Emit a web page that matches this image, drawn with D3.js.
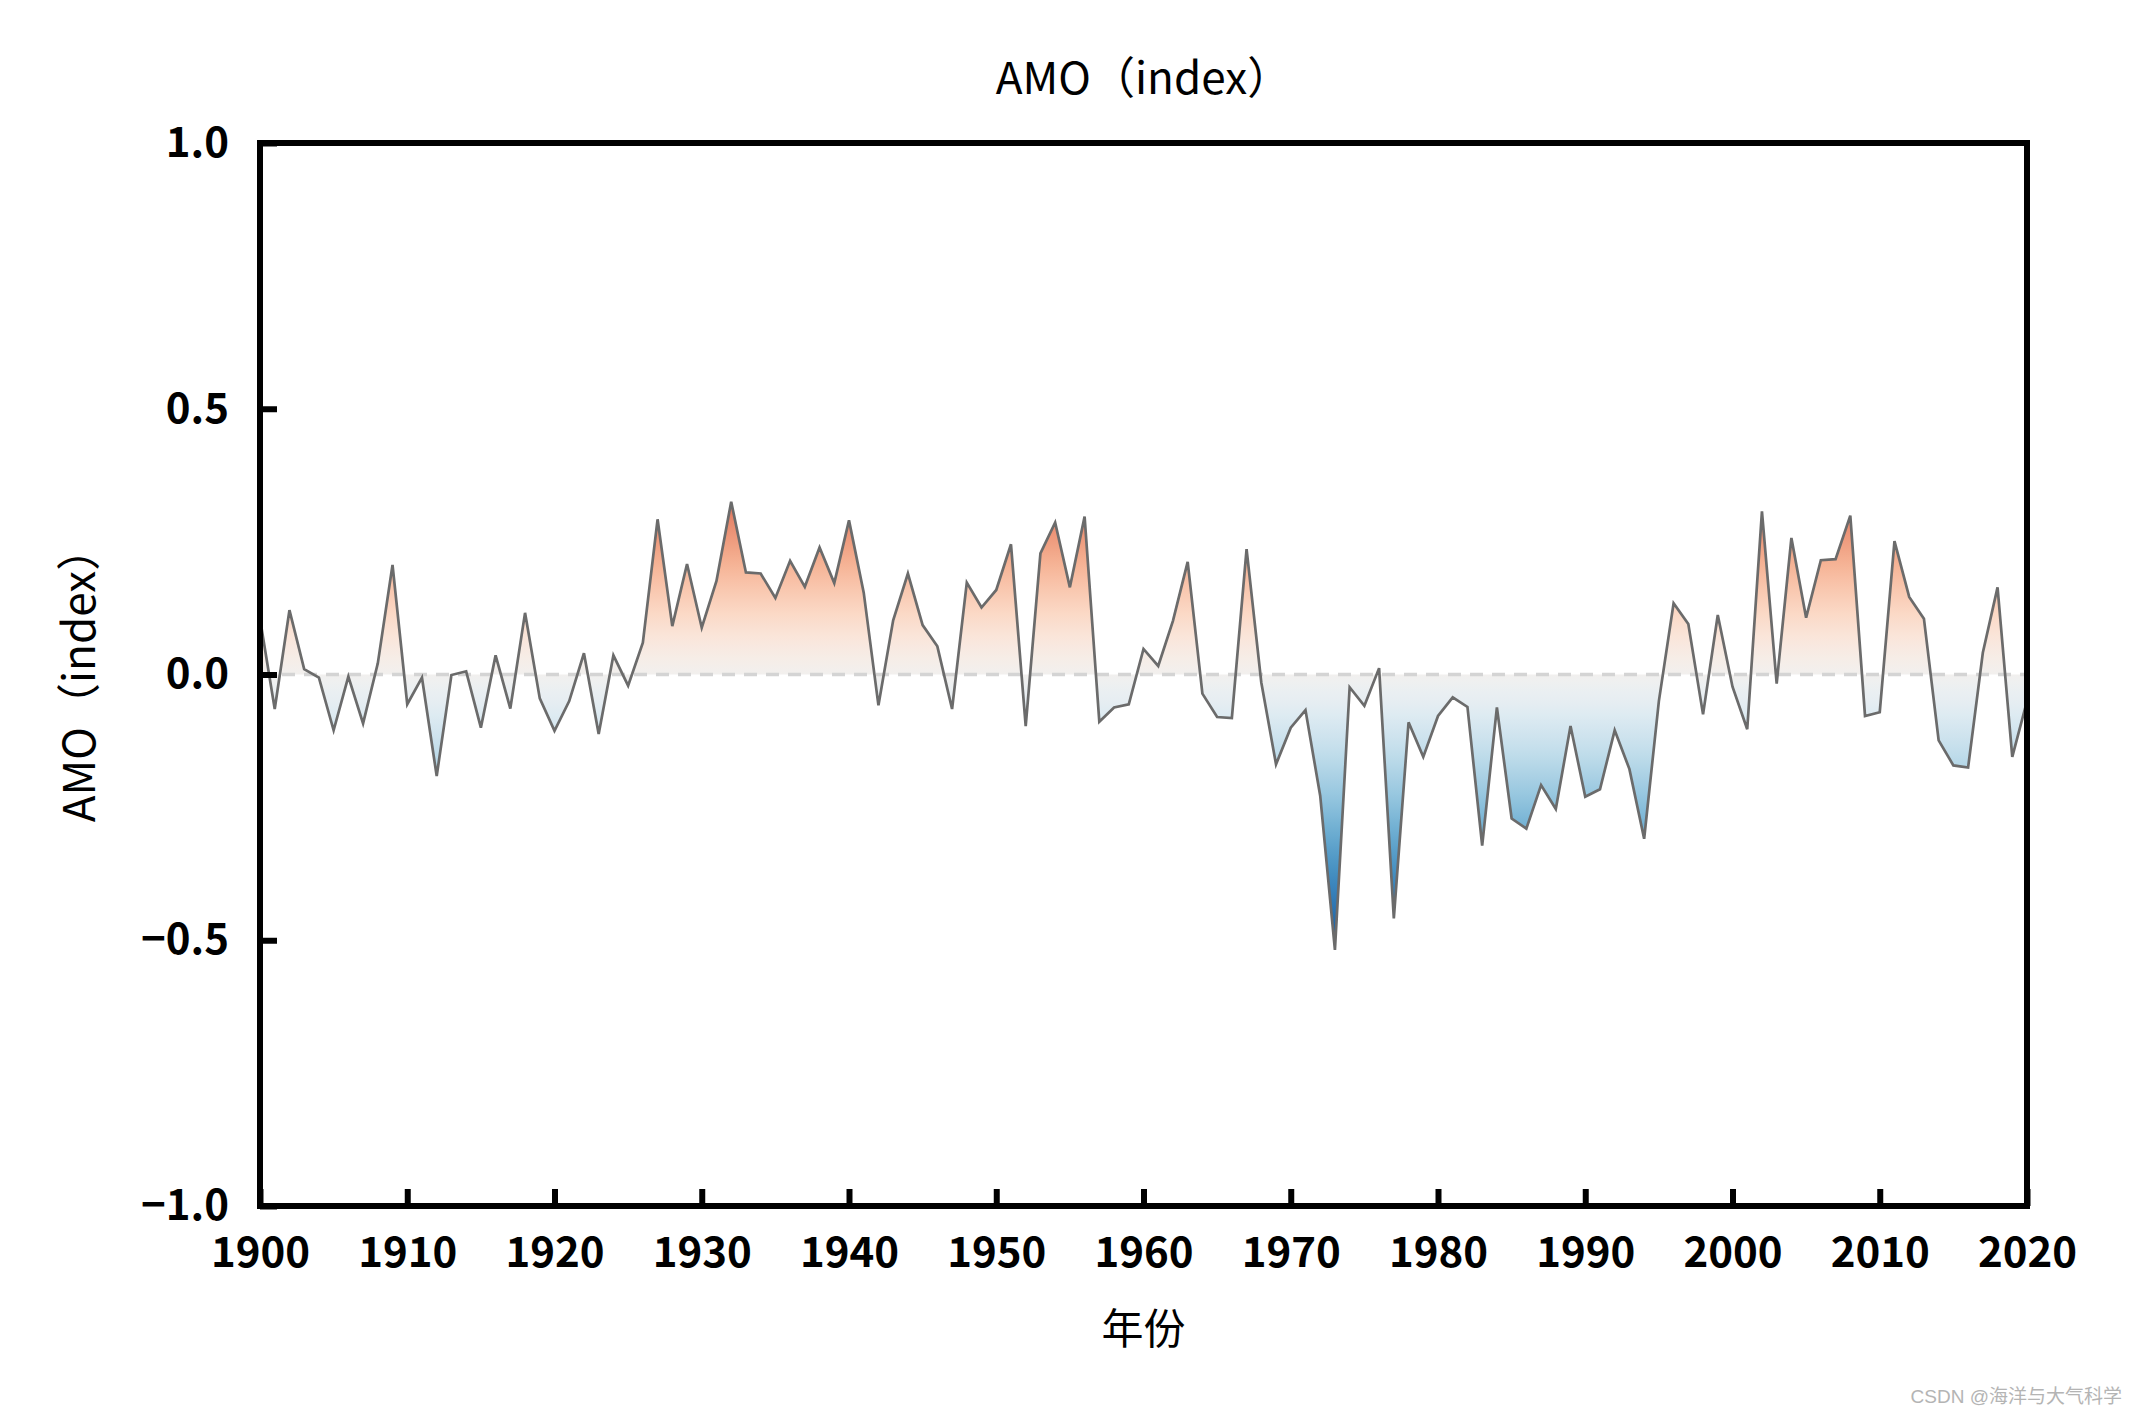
<!DOCTYPE html>
<html>
<head>
<meta charset="utf-8">
<script src="https://cdn.jsdelivr.net/npm/d3@7"></script>
<style>
  html, body { margin: 0; padding: 0; background: #fff; }
  svg { display: block; }
</style>
</head>
<body>
<svg id="chart" width="2138" height="1414"></svg>
<script>
// ---- data ----
const startYear = 1900;
const amoValues = [
  0.105, -0.065, 0.121, 0.010, -0.006, -0.105, -0.004, -0.092, 0.021, 0.206,
  -0.056, -0.006, -0.191, -0.001, 0.006, -0.100, 0.036, -0.064, 0.116, -0.045,
  -0.106, -0.050, 0.040, -0.112, 0.036, -0.021, 0.060, 0.292, 0.091, 0.208,
  0.088, 0.176, 0.325, 0.192, 0.190, 0.144, 0.214, 0.165, 0.239, 0.172,
  0.290, 0.154, -0.058, 0.102, 0.190, 0.093, 0.053, -0.065, 0.173, 0.126,
  0.159, 0.245, -0.097, 0.228, 0.286, 0.164, 0.297, -0.089, -0.062, -0.056,
  0.048, 0.016, 0.101, 0.212, -0.036, -0.080, -0.082, 0.236, -0.015, -0.169,
  -0.100, -0.067, -0.228, -0.518, -0.024, -0.059, 0.012, -0.459, -0.090, -0.155,
  -0.078, -0.043, -0.061, -0.322, -0.062, -0.271, -0.290, -0.208, -0.253, -0.097,
  -0.230, -0.216, -0.105, -0.178, -0.309, -0.050, 0.134, 0.095, -0.075, 0.112,
  -0.023, -0.103, 0.307, -0.017, 0.257, 0.107, 0.215, 0.217, 0.299, -0.078,
  -0.071, 0.251, 0.146, 0.105, -0.124, -0.171, -0.175, 0.041, 0.164, -0.155,
  -0.050
];
const years = amoValues.map((v, i) => startYear + i);
const xTicks = [1900, 1910, 1920, 1930, 1940, 1950, 1960, 1970, 1980, 1990, 2000, 2010, 2020];
const yTicks = [-1.0, -0.5, 0.0, 0.5, 1.0];
const titleText = "AMO（index）";
const xLabelText = "年份";
const yLabelText = "AMO（index）";
const watermarkText = "CSDN @海洋与大气科学";

const data = years.map((y, i) => ({ year: y, value: amoValues[i] }));

// ---- layout ----
const svg = d3.select("#chart");
const L = 260, R = 2027, T = 143, B = 1206;
const FONT = "'Noto Sans CJK SC', 'Noto Sans', sans-serif";

const x = d3.scaleLinear().domain([1900, 2020]).range([L, R]);
const y = d3.scaleLinear().domain([-1, 1]).range([B, T]);

// colour scale (diverging, red positive / blue negative)
const color = d3.scaleDiverging(t => d3.interpolateRdBu(1 - t)).domain([-0.6, 0, 0.6]);

const vmax = d3.max(amoValues), vmin = d3.min(amoValues);
const defs = svg.append("defs");
const grad = defs.append("linearGradient")
  .attr("id", "amoGrad")
  .attr("gradientUnits", "userSpaceOnUse")
  .attr("x1", 0).attr("x2", 0)
  .attr("y1", y(vmax)).attr("y2", y(vmin));
const nStops = 40;
for (let i = 0; i <= nStops; i++) {
  const v = vmax + (vmin - vmax) * i / nStops;
  grad.append("stop")
    .attr("offset", (i / nStops))
    .attr("stop-color", color(v));
}

const clip = defs.append("clipPath").attr("id", "plotClip");
clip.append("rect").attr("x", L).attr("y", T).attr("width", R - L).attr("height", B - T);

const plot = svg.append("g").attr("clip-path", "url(#plotClip)");

// filled area between curve and zero
const area = d3.area()
  .x(d => x(d.year))
  .y0(y(0))
  .y1(d => y(d.value));
plot.append("path")
  .datum(data)
  .attr("d", area)
  .attr("fill", "url(#amoGrad)");

// zero dashed line
plot.append("line")
  .attr("x1", L).attr("x2", R)
  .attr("y1", y(0)).attr("y2", y(0))
  .attr("stroke", "#d4d4d4")
  .attr("stroke-width", 3.5)
  .attr("stroke-dasharray", "13,9");

// line
const line = d3.line().x(d => x(d.year)).y(d => y(d.value));
plot.append("path")
  .datum(data)
  .attr("d", line)
  .attr("fill", "none")
  .attr("stroke", "#6b6b6b")
  .attr("stroke-width", 2.7)
  .attr("stroke-linejoin", "miter");

// axes
const fmtY = d3.format(".1f");
const xAxis = d3.axisBottom(x).tickValues(xTicks).tickFormat(d3.format("d"))
  .tickSizeInner(-17).tickSizeOuter(0).tickPadding(31);
const yAxis = d3.axisLeft(y).tickValues(yTicks).tickFormat(fmtY)
  .tickSizeInner(-17).tickSizeOuter(0).tickPadding(31);

const gx = svg.append("g").attr("transform", `translate(0,${B})`).call(xAxis);
const gy = svg.append("g").attr("transform", `translate(${L},0)`).call(yAxis);
[gx, gy].forEach(g => {
  g.select(".domain").remove();
  g.selectAll(".tick line").attr("stroke", "#000").attr("stroke-width", 6);
  g.selectAll(".tick text")
    .attr("fill", "#000")
    .style("font-family", FONT)
    .style("font-weight", "bold")
    .style("font-size", "42px");
});

// frame
svg.append("rect")
  .attr("x", L).attr("y", T)
  .attr("width", R - L).attr("height", B - T)
  .attr("fill", "none")
  .attr("stroke", "#000")
  .attr("stroke-width", 6);

// title & labels
svg.append("text")
  .attr("x", (L + R) / 2).attr("y", 94)
  .attr("text-anchor", "middle")
  .style("font-family", FONT).style("font-size", "44px")
  .attr("fill", "#000")
  .text(titleText);

svg.append("text")
  .attr("x", (L + R) / 2).attr("y", 1344)
  .attr("text-anchor", "middle")
  .style("font-family", FONT).style("font-size", "42px")
  .attr("fill", "#000")
  .text(xLabelText);

svg.append("text")
  .attr("transform", `translate(80,${(T + B) / 2}) rotate(-90)`)
  .attr("text-anchor", "middle")
  .attr("dy", "0.35em")
  .style("font-family", FONT).style("font-size", "44px")
  .attr("fill", "#000")
  .text(yLabelText);

svg.append("text")
  .attr("x", 2122).attr("y", 1403)
  .attr("text-anchor", "end")
  .style("font-family", "'Liberation Sans', 'Noto Sans CJK SC', sans-serif")
  .style("font-size", "19px")
  .attr("fill", "#b4b4b4")
  .text(watermarkText);
</script>
</body>
</html>
